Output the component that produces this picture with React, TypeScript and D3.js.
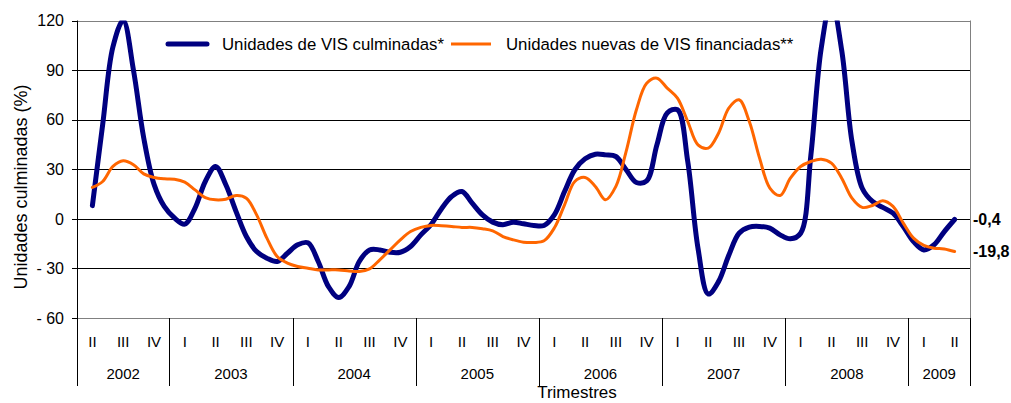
import { scaleLinear, line, curveCatmullRom } from "d3";

// quarterly axis labels, 2002 II .. 2009 II
const quarters = ["II", "III", "IV", "I", "II", "III", "IV", "I", "II", "III", "IV", "I", "II", "III", "IV",
  "I", "II", "III", "IV", "I", "II", "III", "IV", "I", "II", "III", "IV", "I", "II"];
const years = ["2002", "2003", "2004", "2005", "2006", "2007", "2008", "2009"];
const quartersPerYear = [3, 4, 4, 4, 4, 4, 4, 2];
const yTicks = [120, 90, 60, 30, 0, -30, -60];

// monthly readings, May 2002 .. May 2009 (%)
const culminadas = [
  8, 57, 104, 120, 90, 49, 21, 7.5, 0.5, -3.2, 6.5, 22.6, 31.7, 20.6, 4.4, -10.7,
  -19.8, -23.8, -25.8, -20.8, -15.7, -14.5, -25.8, -41, -47.6, -41, -25.8, -18.8, -18.8, -20.2,
  -20.2, -16.7, -9.7, -3.4, 6, 13.5, 16.5, 9.5, 2.4, -2, -3.6, -2, -3, -4, -4,
  2.4, 16.5, 29.7, 36.3, 39.1, 38.7, 37.7, 29.7, 22, 23, 44.8, 64, 66, 34.7, -17.8,
  -45.5, -38, -22, -8.7, -5, -4.6, -5.6, -9.7, -12.1, -8.7, 38.7, 103, 132, 102, 46.8,
  18.5, 10.5, 6.9, 3.4, -4.6, -13.7, -18.8, -15.7, -7.7, -0.4,
];
const financiadas = [
  19, 22.6, 31.7, 35.1, 32.7, 27.2, 25, 24.2, 24, 22.2, 17.5, 12.9, 11.5, 11.9, 14.1, 12.5,
  2.4, -11.7, -22.8, -26.8, -28.8, -29.9, -30.9, -30.9, -30.9, -31.5, -31.9, -30.3, -24.8, -18.8,
  -12.7, -7.7, -5.2, -4, -4.2, -4.6, -5.2, -5.2, -6, -7.3, -10.7, -12.7, -14.1, -14.3, -13.3,
  -5.6, 8.5, 22.6, 25, 19.6, 11.5, 19.6, 40.8, 66, 82, 85.1, 79.1, 73, 58.9, 44.8,
  42.8, 51.8, 67, 72, 58.9, 36.7, 18.6, 14.1, 24.6, 31.7, 34.7, 36.1, 33.7, 24.6, 12.5,
  6.9, 8.1, 10.9, 7.5, -2.6, -11.7, -16.1, -17.8, -18.2, -19.8,
];

const W = 1011;
const H = 403;
const left = 77;
const right = 970;
const top = 20.5;
const bottom = 318;
const font = "'Liberation Sans', Arial, sans-serif";

export default function App() {
  // month index; quarter i is centred on month 3i
  const x = scaleLinear().domain([-1.5, quarters.length * 3 - 1.5]).range([left, right]);
  const y = scaleLinear().domain([-60, 120]).range([bottom, top]);
  const path = line<number>()
    .x((_, i) => x(i))
    .y((d) => y(d))
    .curve(curveCatmullRom.alpha(0.5));

  let acc = 0;
  const yearSpans = years.map((yr, i) => {
    const start = acc;
    acc += quartersPerYear[i];
    return { yr, start, end: acc };
  });
  const qx = (q: number) => x(q * 3 - 1.5);

  const lastC = culminadas[culminadas.length - 1];
  const lastF = financiadas[financiadas.length - 1];

  return (
    <svg width={W} height={H} style={{ position: "absolute", left: 0, top: 0, background: "#fff" }} fontFamily={font}>
      <defs>
        <clipPath id="plot">
          <rect x={left} y={top} width={right - left} height={bottom - top} />
        </clipPath>
      </defs>

      {/* grid */}
      {yTicks.map((t) => (
        <g key={t}>
          {t > -60 && t < 120 && (
            <line x1={left} x2={right} y1={Math.round(y(t)) + 0.5} y2={Math.round(y(t)) + 0.5} stroke="#000" strokeWidth={1} />
          )}
          <line x1={left - 5} x2={left} y1={Math.round(y(t)) + 0.5} y2={Math.round(y(t)) + 0.5} stroke="#000" />
          <text x={64} y={y(t)} dy="0.36em" textAnchor="end" fontSize={16} fill="#000">
            {t < 0 ? `- ${-t}` : t}
          </text>
        </g>
      ))}
      <line x1={left} x2={right} y1={Math.round(top) + 0.5} y2={Math.round(top) + 0.5} stroke="#808080" />
      <line x1={right + 0.5} x2={right + 0.5} y1={top} y2={bottom} stroke="#808080" />
      <line x1={left} x2={right} y1={bottom + 0.5} y2={bottom + 0.5} stroke="#808080" />
      <line x1={left + 0.5} x2={left + 0.5} y1={top} y2={bottom} stroke="#000" />

      {/* category axis */}
      {yearSpans.map((s) => (
        <g key={s.yr}>
          <line x1={Math.round(qx(s.start)) + 0.5} x2={Math.round(qx(s.start)) + 0.5} y1={bottom} y2={386} stroke="#000" />
          <text x={(qx(s.start) + qx(s.end)) / 2} y={374} dy="0.36em" textAnchor="middle" fontSize={15}>
            {s.yr}
          </text>
        </g>
      ))}
      <line x1={right + 0.5} x2={right + 0.5} y1={bottom} y2={386} stroke="#000" />
      {quarters.map((q, i) => (
        <text key={i} x={x(i * 3)} y={342} dy="0.36em" textAnchor="middle" fontSize={15}>
          {q}
        </text>
      ))}
      <text x={577} y={398} textAnchor="middle" fontSize={17}>
        Trimestres
      </text>

      {/* y title */}
      <text transform={`translate(21,187) rotate(-90)`} textAnchor="middle" dy="0.36em" fontSize={18}>
        Unidades culminadas (%)
      </text>

      {/* series */}
      <g clipPath="url(#plot)" fill="none" strokeLinejoin="round" strokeLinecap="round">
        <path d={path(culminadas) ?? ""} stroke="#000080" strokeWidth={5} />
        <path d={path(financiadas) ?? ""} stroke="#ff6600" strokeWidth={3} />
      </g>

      {/* last values */}
      <text x={973} y={y(lastC)} dy="0.36em" fontSize={16} fontWeight="bold">
        -0,4
      </text>
      <text x={973} y={y(lastF)} dy="0.36em" fontSize={16} fontWeight="bold">
        -19,8
      </text>

      {/* legend */}
      <line x1={168} x2={207} y1={44} y2={44} stroke="#000080" strokeWidth={5} strokeLinecap="round" />
      <text x={222} y={44} dy="0.36em" fontSize={16.8}>
        Unidades de VIS culminadas*
      </text>
      <line x1={451} x2={491} y1={44} y2={44} stroke="#ff6600" strokeWidth={3} />
      <text x={506} y={44} dy="0.36em" fontSize={16.8}>
        Unidades nuevas de VIS financiadas**
      </text>
    </svg>
  );
}
